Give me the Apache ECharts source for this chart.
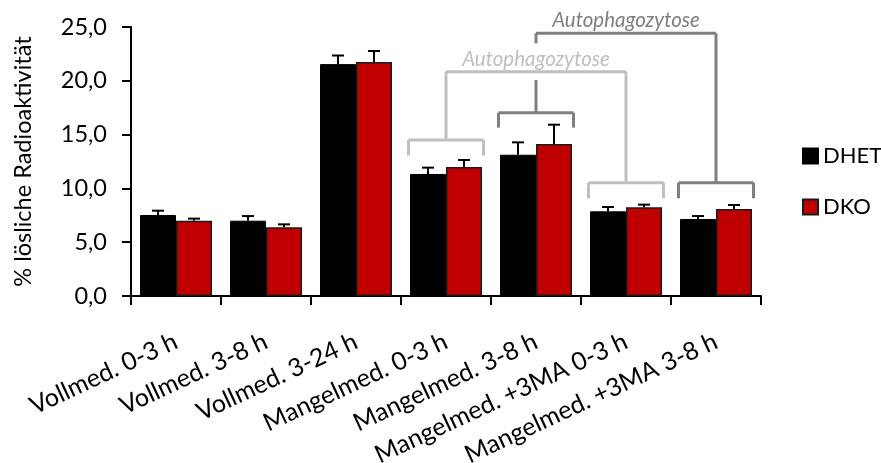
<!DOCTYPE html>
<html>
<head>
<meta charset="utf-8">
<script src="https://cdn.jsdelivr.net/npm/echarts@6/dist/echarts.min.js"></script>
<style>
  html, body { margin: 0; padding: 0; background: #fff; }
  #chart { width: 881px; height: 463px; }
</style>
</head>
<body>
<div id="chart"></div>
<script>
// categories and values
const categories = [
    'Vollmed. 0-3 h', 'Vollmed. 3-8 h', 'Vollmed. 3-24 h', 'Mangelmed. 0-3 h',
    'Mangelmed. 3-8 h', 'Mangelmed. +3MA 0-3 h', 'Mangelmed. +3MA 3-8 h'
];
const dhet = [7.53, 7.0, 21.55, 11.34, 13.13, 7.87, 7.16];
const dhetErr = [0.40, 0.43, 0.80, 0.59, 1.15, 0.40, 0.27];
const dko = [7.0, 6.38, 21.75, 11.99, 14.13, 8.24, 8.09];
const dkoErr = [0.19, 0.28, 1.02, 0.65, 1.79, 0.25, 0.37];
const yTicks = [0, 5, 10, 15, 20, 25];

// annotation brackets (category index, bracket line level, leg end level)
const bracketLabel = 'Autophagozytose';
const lightGroups = [[3, 14.5, 13.05], [5, 10.53, 9.08]];
const lightTop = 20.85;
const lightText = 22.0;
const darkGroups = [[4, 17.03, 15.65], [6, 10.53, 9.08]];
const darkTop = 24.41;
const darkText = 25.58;
const darkGap = [20.07, 23.48];

const FONT = 'Lato';
const LIGHT = '#bfbfbf';
const DARK = '#7f7f7f';

let chart = echarts.init(document.getElementById('chart'));

function errorRender(offset) {
    return function (params, api) {
        const top = api.coord([api.value(0), api.value(1) + api.value(2)]);
        const base = api.coord([api.value(0), api.value(1)]);
        const band = api.size([1, 0])[0];
        const x = base[0] + band * offset;
        const style = { stroke: '#000', lineWidth: 2 };
        return {
            type: 'group',
            children: [
                { type: 'line', shape: { x1: x, y1: base[1], x2: x, y2: top[1] }, style: style },
                { type: 'line', shape: { x1: x - 6, y1: top[1], x2: x + 6, y2: top[1] }, style: style }
            ]
        };
    };
}

function bracketRender(params, api) {
    const band = api.size([1, 0])[0];
    const half = band * 0.417;
    const children = [];
    function seg(a, b, color) {
        children.push({
            type: 'line',
            shape: { x1: a[0], y1: a[1], x2: b[0], y2: b[1] },
            style: { stroke: color, lineWidth: 3 }
        });
    }
    function group(g, color) {
        const c = api.coord([g[0], g[1]]);
        const leg = api.coord([g[0], g[2]]);
        seg([c[0] - half, leg[1]], [c[0] - half, c[1]], color);
        seg([c[0] - half, c[1]], [c[0] + half, c[1]], color);
        seg([c[0] + half, c[1]], [c[0] + half, leg[1]], color);
        return c;
    }
    // light bracket
    const l1 = group(lightGroups[0], LIGHT);
    const l2 = group(lightGroups[1], LIGHT);
    const lt = api.coord([0, lightTop])[1];
    seg([l1[0], l1[1]], [l1[0], lt], LIGHT);
    seg([l1[0], lt], [l2[0], lt], LIGHT);
    seg([l2[0], lt], [l2[0], l2[1]], LIGHT);
    // dark bracket
    const d1 = group(darkGroups[0], DARK);
    const d2 = group(darkGroups[1], DARK);
    const dt = api.coord([0, darkTop])[1];
    const g0 = api.coord([0, darkGap[0]])[1];
    const g1 = api.coord([0, darkGap[1]])[1];
    seg([d1[0], d1[1]], [d1[0], g0], DARK);
    seg([d1[0], g1], [d1[0], dt], DARK);
    seg([d1[0], dt], [d2[0], dt], DARK);
    seg([d2[0], dt], [d2[0], d2[1]], DARK);
    // labels
    children.push({
        type: 'text',
        style: {
            text: bracketLabel, x: d1[0], y: api.coord([0, lightText])[1],
            fill: LIGHT, font: 'italic 20.5px ' + FONT, align: 'center', verticalAlign: 'middle'
        }
    });
    children.push({
        type: 'text',
        style: {
            text: bracketLabel, x: l2[0], y: api.coord([0, darkText])[1],
            fill: DARK, font: 'italic 20.5px ' + FONT, align: 'center', verticalAlign: 'middle'
        }
    });
    return { type: 'group', children: children };
}

const option = {
    animation: false,
    textStyle: { fontFamily: FONT },
    grid: { left: 131, right: 120, top: 27, bottom: 167, containLabel: false, outerBoundsMode: 'none' },
    legend: {
        data: ['DHET', 'DKO'],
        orient: 'vertical',
        left: 797,
        top: 140,
        icon: 'rect',
        itemWidth: 15,
        itemHeight: 15,
        itemGap: 29,
        textStyle: { fontSize: 22, color: '#000', fontFamily: FONT }
    },
    xAxis: {
        type: 'category',
        data: categories,
        axisLine: { lineStyle: { color: '#000', width: 2 } },
        axisTick: { show: true, length: 9, lineStyle: { color: '#000', width: 2 } },
        axisLabel: {
            interval: 0,
            rotate: 25,
            margin: 44,
            fontSize: 25,
            color: '#000',
            fontFamily: FONT
        }
    },
    yAxis: {
        type: 'value',
        min: 0,
        max: 25,
        interval: 5,
        name: '% lösliche Radioaktivität',
        nameLocation: 'middle',
        nameGap: 96,
        nameTextStyle: { fontSize: 23.5, color: '#000', fontFamily: FONT },
        axisLine: { show: true, lineStyle: { color: '#000', width: 2 } },
        axisTick: { show: true, length: 9, lineStyle: { color: '#000', width: 2 } },
        splitLine: { show: false },
        axisLabel: {
            margin: 24,
            fontSize: 23.5,
            color: '#000',
            fontFamily: FONT,
            formatter: v => yTicks.indexOf(v) >= 0 ? v.toFixed(1).replace('.', ',') : ''
        }
    },
    series: [
        {
            name: 'DHET', type: 'bar', data: dhet,
            barGap: 0, barCategoryGap: '20%',
            itemStyle: { color: '#000000', borderColor: '#000', borderWidth: 1 }
        },
        {
            name: 'DKO', type: 'bar', data: dko,
            itemStyle: { color: '#c00000', borderColor: '#1a1a1a', borderWidth: 1.5 }
        },
        {
            type: 'custom', renderItem: errorRender(-0.2), z: 3,
            data: dhet.map((v, i) => [i, v, dhetErr[i]])
        },
        {
            type: 'custom', renderItem: errorRender(0.2), z: 3,
            data: dko.map((v, i) => [i, v, dkoErr[i]])
        },
        {
            type: 'custom', renderItem: bracketRender, clip: false, z: 4,
            data: [[0, 0]]
        }
    ]
};
chart.setOption(option);
</script>
</body>
</html>
